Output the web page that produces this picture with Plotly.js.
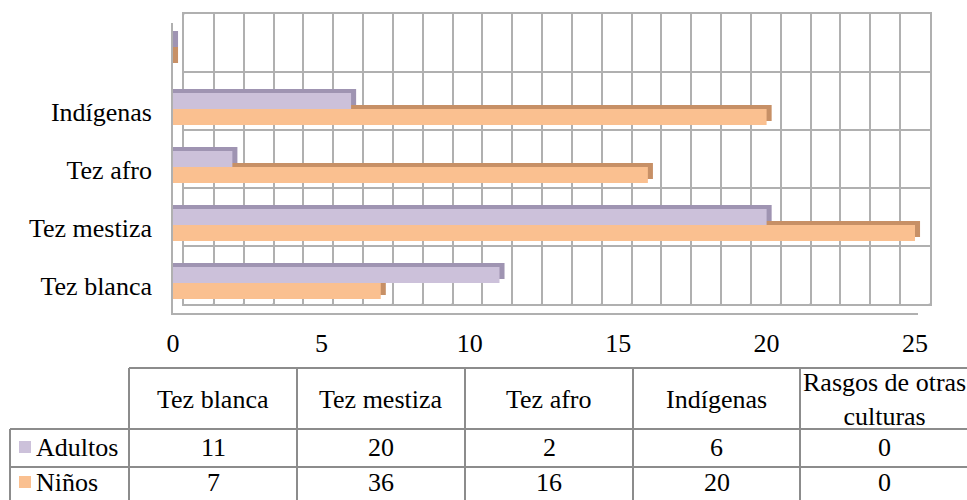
<!DOCTYPE html>
<html>
<head>
<meta charset="utf-8">
<script src="https://cdn.plot.ly/plotly-3.0.1.min.js"></script>
<style>html,body{margin:0;padding:0;background:#fff;overflow:hidden;}#chart{width:967px;height:500px;}</style>
</head>
<body>
<div id="chart"></div>
<script>
// ---- data ----
const categories = ["Tez blanca", "Tez mestiza", "Tez afro", "Indígenas", "Rasgos de otras culturas"];
const axisLabels = ["Tez blanca", "Tez mestiza", "Tez afro", "Indígenas", ""];
const seriesNames = ["Adultos", "Niños"];
const adultos = [11, 20, 2, 6, 0];
const ninos = [7, 36, 16, 20, 0];
const headerLabels = ["Tez blanca", "Tez mestiza", "Tez afro", "Indígenas", "Rasgos de otras<br>culturas"];
const xMax = 25;

// ---- styling / geometry ----
const W = 967, H = 500;
const px = v => v / W;
const py = v => (H - v) / H;
const FONT = "Liberation Serif";
const FS = 26;
const GRID = "#b0b0b0";
const LINE = "#8c8c8c";
const colA = "#ccc1da", colAd = "#9f94b2";
const colN = "#fac090", colNd = "#c79066";
const BAR_W = 0.276;
const DEPTH_Y = 0.07;
const DEPTH_X = 0.17;
const UNIT_PX = 29.68;

function depthTrace(vals, off, color) {
  return {type: "bar", orientation: "h", xaxis: "x2", yaxis: "y2",
    y: [0,1,2,3,4], x: vals.map(v => Math.min(v, xMax) + DEPTH_X),
    offset: off + DEPTH_Y, width: BAR_W, marker: {color: color, line: {width: 0}},
    showlegend: false, hoverinfo: "skip"};
}
function frontTrace(vals, off, color, name) {
  return {type: "bar", orientation: "h", xaxis: "x2", yaxis: "y2", name: name,
    y: [0,1,2,3,4], x: vals.map(v => Math.min(v, xMax)), offset: off, width: BAR_W,
    marker: {color: color, line: {width: 0}}, showlegend: false};
}

const traces = [
  {type: "scatter", x: [0], y: [0], xaxis: "x", yaxis: "y", mode: "markers",
   marker: {opacity: 0}, showlegend: false, hoverinfo: "skip"},
  depthTrace(ninos, -BAR_W, colNd),
  frontTrace(ninos, -BAR_W, colN, seriesNames[1]),
  depthTrace(adultos, 0, colAd),
  frontTrace(adultos, 0, colA, seriesNames[0])
];

const shapes = [];
// floor diagonals
for (let k = 0; k <= xMax; k++) {
  shapes.push({type: "line", layer: "below", xref: "x", yref: "y",
    xsizemode: "pixel", xanchor: k, x0: 0, x1: -12,
    ysizemode: "pixel", yanchor: 0, y0: 0, y1: -10,
    line: {color: GRID, width: 2}});
}
// left wall diagonals
for (let j = 0; j <= 5; j++) {
  shapes.push({type: "line", layer: "below", xref: "x", yref: "y",
    xsizemode: "pixel", xanchor: 0, x0: 0, x1: -12,
    ysizemode: "pixel", yanchor: j, y0: 0, y1: -9,
    line: {color: GRID, width: 2}});
}
shapes.push({type: "line", layer: "below", xref: "paper", yref: "paper",
  x0: px(171), x1: px(918), y0: py(314), y1: py(314), line: {color: GRID, width: 2}});
shapes.push({type: "line", layer: "below", xref: "paper", yref: "paper",
  x0: px(172), x1: px(172), y0: py(23), y1: py(314), line: {color: GRID, width: 2}});

// ---- data table ----
const colEdges = [129, 297, 465, 633, 800, 968];
const rowTop = 368, rowHead = 429, rowA = 467;
shapes.push({type: "line", xref: "paper", yref: "paper", x0: px(colEdges[0]), x1: 1,
  y0: py(rowTop), y1: py(rowTop), line: {color: LINE, width: 2}});
[rowHead, rowA].forEach(r => shapes.push({type: "line", xref: "paper", yref: "paper",
  x0: px(10), x1: 1, y0: py(r), y1: py(r), line: {color: LINE, width: 2}}));
shapes.push({type: "line", xref: "paper", yref: "paper", x0: px(10), x1: px(10),
  y0: py(rowHead), y1: 0, line: {color: LINE, width: 2}});
colEdges.slice(0, 5).forEach(c => shapes.push({type: "line", xref: "paper", yref: "paper",
  x0: px(c), x1: px(c), y0: py(rowTop), y1: 0, line: {color: LINE, width: 2}}));

const annotations = [];
const rowCenters = [399, 447, 482];
categories.forEach((c, i) => {
  const cx = (colEdges[i] + colEdges[i + 1]) / 2;
  annotations.push({xref: "paper", yref: "paper", x: px(cx), y: py(rowCenters[0]),
    text: headerLabels[i], showarrow: false, xanchor: "center", yanchor: "middle",
    font: {family: FONT, size: FS, color: "#000"}});
  annotations.push({xref: "paper", yref: "paper", x: px(cx), y: py(rowCenters[1]),
    text: String(adultos[i]), showarrow: false, xanchor: "center", yanchor: "middle",
    font: {family: FONT, size: FS, color: "#000"}});
  annotations.push({xref: "paper", yref: "paper", x: px(cx), y: py(rowCenters[2]),
    text: String(ninos[i]), showarrow: false, xanchor: "center", yanchor: "middle",
    font: {family: FONT, size: FS, color: "#000"}});
});
// series keys in the table's first column
[[seriesNames[0], colA, rowCenters[1]], [seriesNames[1], colN, rowCenters[2]]].forEach(([name, col, cy]) => {
  shapes.push({type: "rect", xref: "paper", yref: "paper", x0: px(19), x1: px(31),
    y0: py(cy + 6), y1: py(cy - 6), fillcolor: col, line: {width: 0}});
  annotations.push({xref: "paper", yref: "paper", x: px(34), y: py(cy), text: name,
    showarrow: false, xanchor: "left", yanchor: "middle",
    font: {family: FONT, size: FS, color: "#000"}});
});

const xEnd = 173 + (xMax + 0.25) * UNIT_PX;
const layout = {
  width: W, height: H,
  margin: {l: 0, r: 0, t: 0, b: 0},
  paper_bgcolor: "#fff", plot_bgcolor: "rgba(0,0,0,0)",
  font: {family: FONT, size: FS, color: "#000"},
  barmode: "overlay",
  showlegend: false,
  xaxis: {domain: [px(184), px(930)], range: [0, xMax], dtick: 1, showgrid: true,
    gridcolor: GRID, gridwidth: 2, showline: true, linecolor: GRID, linewidth: 2, mirror: true,
    zeroline: false, showticklabels: false, ticks: "", anchor: "y", fixedrange: true},
  yaxis: {domain: [py(304), py(14)], range: [0, 5], dtick: 1, showgrid: true,
    gridcolor: GRID, gridwidth: 2, showline: true, linecolor: GRID, linewidth: 2, mirror: true,
    zeroline: false, showticklabels: false, ticks: "", anchor: "x", fixedrange: true},
  xaxis2: {domain: [px(173), px(xEnd)], range: [0, xMax + 0.25], tickvals: [0, 5, 10, 15, 20, 25],
    tickmode: "array", showgrid: false,
    zeroline: false, showline: false, ticks: "", anchor: "y2", ticklabelstandoff: 13,
    tickfont: {family: FONT, size: FS, color: "#000"}, fixedrange: true},
  yaxis2: {domain: [py(312), py(22)], range: [-0.5, 4.5], tickmode: "array",
    tickvals: [0, 1, 2, 3, 4], ticktext: axisLabels, showgrid: false, zeroline: false,
    showline: false, ticks: "", anchor: "x2", ticklabelstandoff: 20, ticklabelshift: 3,
    tickfont: {family: FONT, size: FS, color: "#000"}, fixedrange: true},
  shapes: shapes,
  annotations: annotations
};

Plotly.newPlot("chart", traces, layout, {displayModeBar: false, staticPlot: true});
</script>
</body>
</html>
